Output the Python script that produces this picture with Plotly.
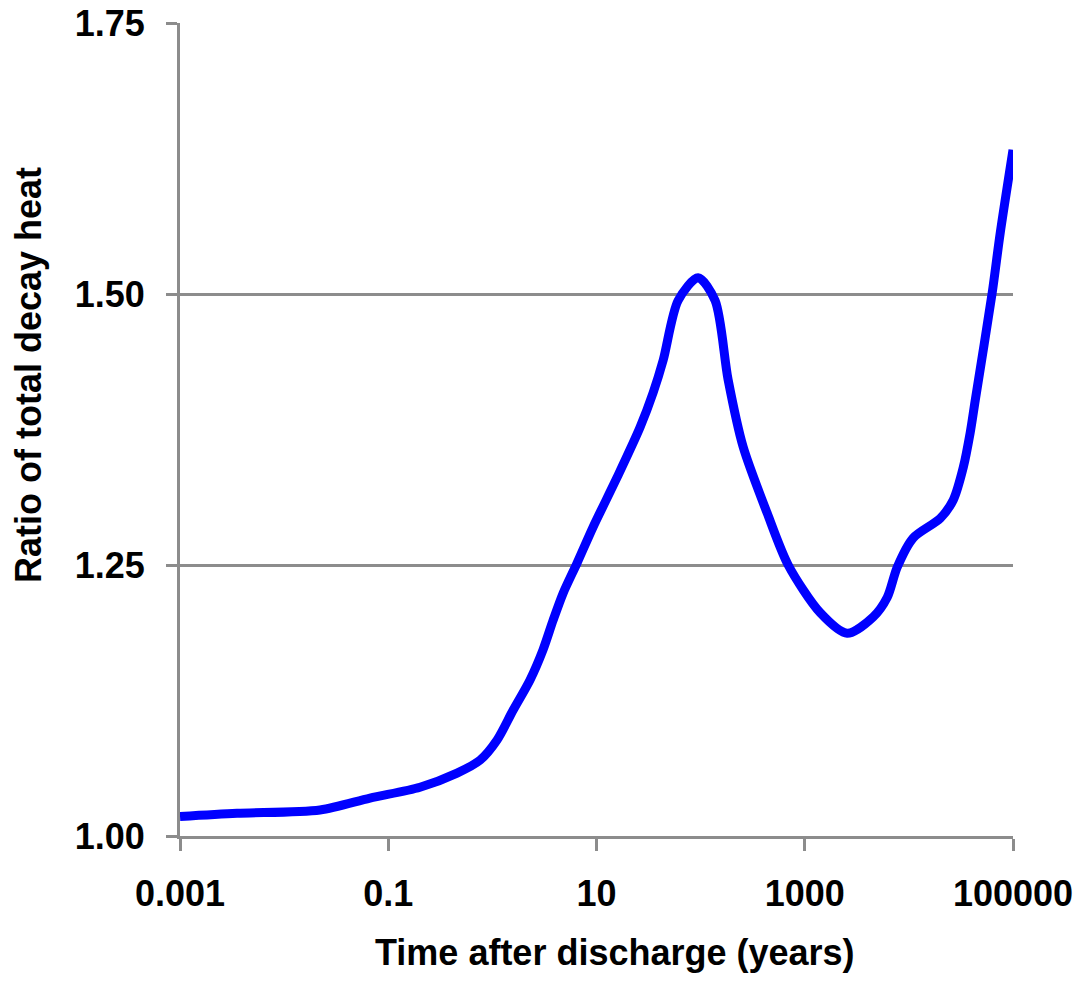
import plotly.graph_objects as go

# Data
time_years = [0.001, 0.00353, 0.0221, 0.0668, 0.2018, 0.458, 0.762, 1.11, 1.58, 2.30,
              3.07, 3.83, 4.78, 6.52, 9.27, 15.8, 26.2, 35.0, 43.7, 60.8, 94.6, 137.7,
              183.6, 255.9, 435, 693, 1406, 2553, 4540, 6190, 7727, 11000, 20000, 26700,
              33300, 38800, 43400, 63100, 75300, 100000]
decay_ratio = [1.018, 1.021, 1.024, 1.035, 1.045, 1.058, 1.070, 1.0886, 1.116, 1.144,
               1.172, 1.199, 1.224, 1.252, 1.285, 1.331, 1.377, 1.409, 1.439, 1.494, 1.515, 1.494,
               1.421, 1.359, 1.298, 1.250, 1.206, 1.187, 1.202, 1.220, 1.248, 1.275, 1.293, 1.310,
               1.340, 1.372, 1.402, 1.501, 1.556, 1.633]

x_tickvals = [0.001, 0.1, 10, 1000, 100000]
x_ticktext = ["<b>0.001</b>", "<b>0.1</b>", "<b>10</b>", "<b>1000</b>", "<b>100000</b>"]
y_tickvals = [1.00, 1.25, 1.50, 1.75]
y_ticktext = ["<b>1.00</b>", "<b>1.25</b>", "<b>1.50</b>", "<b>1.75</b>"]

FONT = "Liberation Sans, Arial, sans-serif"
GRID = "#8c8c8c"

fig = go.Figure()
fig.add_trace(go.Scatter(
    x=time_years, y=decay_ratio, mode="lines",
    line=dict(color="#0000ff", width=9, shape="spline", smoothing=0.8),
    showlegend=False, hoverinfo="skip"))

fig.update_layout(
    width=1080, height=988,
    margin=dict(l=180, r=67, t=23, b=152),
    paper_bgcolor="white", plot_bgcolor="white",
    font=dict(family=FONT, size=36, color="black"),
    xaxis=dict(
        type="log", range=[-3, 5], automargin=False,
        tickvals=x_tickvals, ticktext=x_ticktext,
        showgrid=False, zeroline=False,
        showline=True, linecolor=GRID, linewidth=3,
        ticks="outside", ticklen=12, tickwidth=3, tickcolor=GRID,
        ticklabelstandoff=12,
        tickfont=dict(family=FONT, size=36, color="black"),
    ),
    yaxis=dict(
        range=[1.0, 1.75], automargin=False,
        tickvals=y_tickvals, ticktext=y_ticktext,
        showgrid=True, gridcolor=GRID, gridwidth=3,
        zeroline=False,
        showline=True, linecolor=GRID, linewidth=3,
        ticks="outside", ticklen=11, tickwidth=3, tickcolor=GRID,
        ticklabelstandoff=14,
        tickfont=dict(family=FONT, size=36, color="black"),
    ),
    annotations=[
        dict(text="<b>Time after discharge (years)</b>", xref="paper", yref="paper",
             x=(615 - 180) / 833, y=-(952 - 836) / 813, xanchor="center", yanchor="middle",
             showarrow=False, font=dict(family=FONT, size=36, color="black")),
        dict(text="<b>Ratio of total decay heat</b>", xref="paper", yref="paper",
             x=-(180 - 28) / 833, y=(836 - 375) / 813, xanchor="center", yanchor="middle",
             textangle=-90,
             showarrow=False, font=dict(family=FONT, size=36, color="black")),
    ],
)

fig.write_html("out.html")
